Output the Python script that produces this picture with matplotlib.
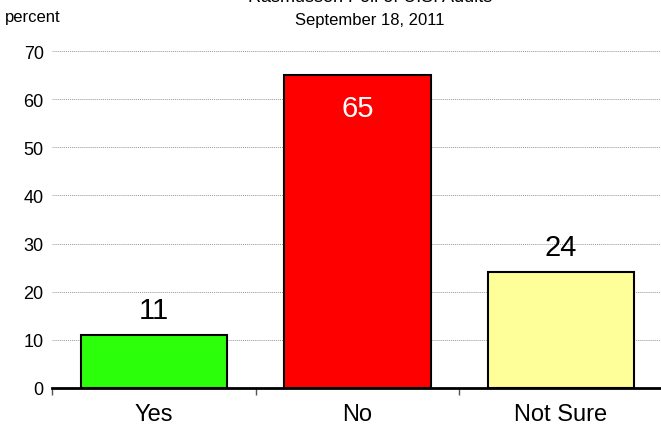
import matplotlib.pyplot as plt

# Poll results
categories = ["Yes", "No", "Not Sure"]
values = [11, 65, 24]
colors = ["#2bff0a", "#ff0000", "#ffff99"]
yticks = [0, 10, 20, 30, 40, 50, 60, 70]

plt.rcParams['font.family'] = ['Liberation Sans Narrow', 'Liberation Sans', 'DejaVu Sans']

fig = plt.figure(figsize=(6.61, 4.27), dpi=100)
ax = fig.add_axes([0.0787, 0.089, 0.924, 0.789])

x = list(range(len(categories)))
bars = ax.bar(x, values, width=0.72, color=colors, edgecolor="black", linewidth=1.5, zorder=3)

ax.set_xlim(-0.5, 2.5)
ax.set_ylim(0, 70)
ax.set_yticks(yticks)
ax.set_yticklabels([str(t) for t in yticks], fontsize=13)
ax.tick_params(axis="y", length=0, pad=6)
ax.yaxis.grid(True, linestyle=(0, (1, 1)), color="#999999", linewidth=0.7, zorder=0)

# category boundaries get the tick marks, labels sit in the middle
ax.set_xticks([-0.5, 0.5, 1.5, 2.5])
ax.set_xticklabels([])
ax.set_xticks(x, minor=True)
ax.set_xticklabels(categories, minor=True, fontsize=17)
ax.tick_params(axis="x", which="major", length=5, width=1, direction="out", color="#555555")
ax.tick_params(axis="x", which="minor", length=0, pad=11)

for s in ["top", "right", "left"]:
    ax.spines[s].set_visible(False)
ax.spines["bottom"].set_linewidth(2)
ax.spines["bottom"].set_zorder(4)

# value labels
for i, v in enumerate(values):
    if v > 50:
        ax.text(i, v - 4, str(v), ha="center", va="top", color="white", fontsize=21)
    else:
        ax.text(i, v + 2.4, str(v), ha="center", va="bottom", color="black", fontsize=21)

fig.text(0.56, 1.005, "Rasmussen Poll of U.S. Adults", ha="center", va="center", fontsize=13)
fig.text(0.56, 0.953, "September 18, 2011", ha="center", va="center", fontsize=12)
fig.text(0.008, 0.958, "percent", ha="left", va="center", fontsize=12)

fig.savefig("out.png", dpi=100)
